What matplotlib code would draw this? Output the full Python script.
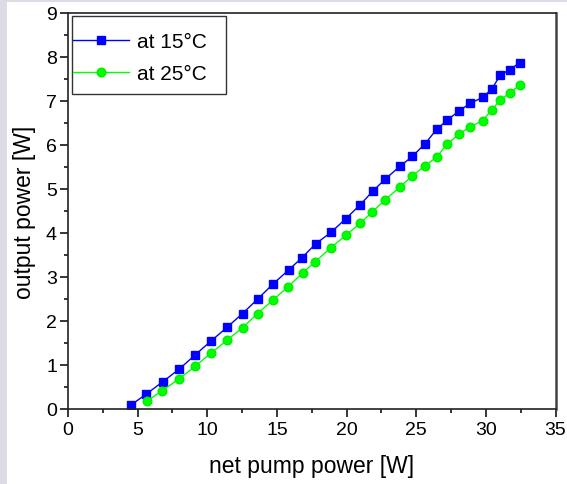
import matplotlib.pyplot as plt
from matplotlib.patches import Rectangle
from matplotlib.ticker import MultipleLocator

plt.rcParams['font.family'] = ['Liberation Sans', 'DejaVu Sans']

# dados
pump_15 = [4.51, 5.63, 6.80, 8.00, 9.13, 10.25, 11.43, 12.53, 13.62, 14.75,
           15.84, 16.80, 17.77, 18.90, 19.93, 20.97, 21.88, 22.79, 23.85, 24.72,
           25.61, 26.48, 27.22, 28.05, 28.89, 29.76, 30.43, 31.03, 31.71, 32.43]
out_15 = [0.09, 0.34, 0.62, 0.91, 1.23, 1.54, 1.86, 2.17, 2.50, 2.85,
          3.16, 3.44, 3.75, 4.02, 4.32, 4.64, 4.95, 5.23, 5.52, 5.74,
          6.02, 6.36, 6.56, 6.77, 6.95, 7.08, 7.27, 7.59, 7.71, 7.87]

pump_25 = [5.65, 6.78, 8.00, 9.12, 10.26, 11.40, 12.54, 13.62, 14.72, 15.77,
           16.84, 17.75, 18.86, 19.95, 20.98, 21.85, 22.79, 23.85, 24.72, 25.61,
           26.48, 27.22, 28.05, 28.89, 29.76, 30.43, 31.03, 31.71, 32.43]
out_25 = [0.175, 0.42, 0.69, 0.97, 1.27, 1.56, 1.85, 2.17, 2.48, 2.77,
          3.09, 3.35, 3.66, 3.95, 4.22, 4.48, 4.76, 5.05, 5.30, 5.52,
          5.73, 6.02, 6.24, 6.42, 6.55, 6.80, 7.02, 7.18, 7.36]

labels = ['at 15°C', 'at 25°C']

fig = plt.figure(figsize=(5.67, 4.85), dpi=100)

# faixas cinza nas bordas (esquerda e topo)
fig.patches.append(Rectangle((0, 0), 7 / 567, 1, transform=fig.transFigure,
                             facecolor='#dcdce6', edgecolor='none', zorder=0))
fig.patches.append(Rectangle((0, 1 - 3 / 485), 1, 3 / 485, transform=fig.transFigure,
                             facecolor='#dcdce6', edgecolor='none', zorder=0))

ax = fig.add_axes([68 / 567, 1 - 410 / 485, (555.5 - 68) / 567, (410 - 14) / 485])

ax.plot(pump_15, out_15, color='#0000ff', lw=1.0, marker='s', ms=5.8,
        mec='#0000ff', mfc='#0000ff', label=labels[0])
ax.plot(pump_25, out_25, color='#00ff00', lw=1.0, marker='o', ms=6.2,
        mec='#00ee00', mfc='#00ff00', label=labels[1])

ax.set_xlim(0, 35)
ax.set_ylim(0, 9)
ax.xaxis.set_major_locator(MultipleLocator(5))
ax.xaxis.set_minor_locator(MultipleLocator(2.5))
ax.yaxis.set_major_locator(MultipleLocator(1))
ax.yaxis.set_minor_locator(MultipleLocator(0.5))

ax.tick_params(which='both', direction='out', top=False, right=False, width=1.1,
               labelsize=14, colors='black')
ax.tick_params(which='major', length=6)
ax.tick_params(which='minor', length=3)
ax.tick_params(axis='x', pad=3)
ax.tick_params(axis='y', pad=2)

for s in ax.spines.values():
    s.set_linewidth(1.2)
    s.set_color('#222222')
ax.spines['right'].set_linewidth(1.8)
ax.spines['right'].set_color('#444444')

ax.set_xlabel('net pump power [W]', fontsize=16.5, labelpad=11)
ax.set_ylabel('output power [W]', fontsize=16.5, labelpad=7)

# legenda sem moldura + moldura desenhada à parte (padding assimétrico como no Origin)
leg = ax.legend(loc='upper left', bbox_to_anchor=(0.0103, 0.952), fontsize=15,
                handlelength=2.7, handletextpad=0.35, borderaxespad=0, borderpad=0,
                labelspacing=0.62, frameon=False)
ax.add_patch(Rectangle((0.0082, 0.795), 0.316, 0.1972, transform=ax.transAxes,
                       facecolor='white', edgecolor='#333333', lw=1.0, zorder=4))
leg.set_zorder(5)

plt.savefig('out.png', dpi=100)
plt.close()
